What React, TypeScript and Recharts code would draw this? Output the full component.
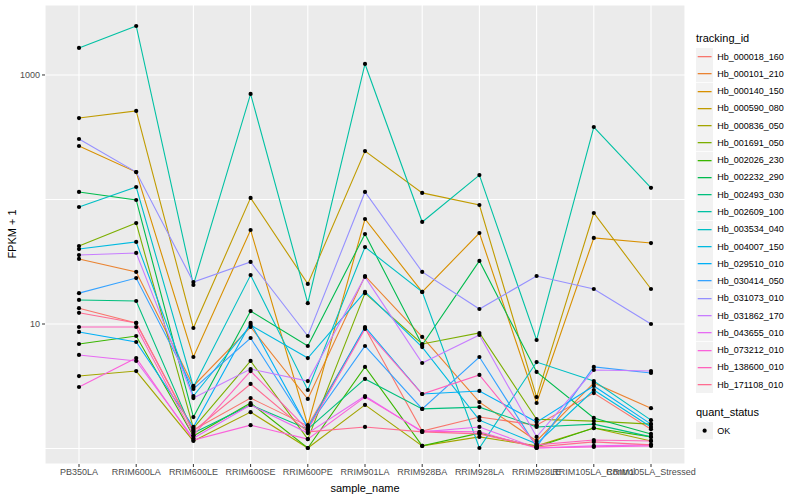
import { ComposedChart, Line, XAxis, YAxis, CartesianGrid } from 'recharts';

const samples = [
  'PB350LA', 'RRIM600LA', 'RRIM600LE', 'RRIM600SE', 'RRIM600PE', 'RRIM901LA',
  'RRIM928BA', 'RRIM928LA', 'RRIM928LE', 'RRIM105LA_Control', 'RRIM105LA_Stressed',
];

const trackingIds = [
  'Hb_000018_160', 'Hb_000101_210', 'Hb_000140_150', 'Hb_000590_080', 'Hb_000836_050',
  'Hb_001691_050', 'Hb_002026_230', 'Hb_002232_290', 'Hb_002493_030', 'Hb_002609_100',
  'Hb_003534_040', 'Hb_004007_150', 'Hb_029510_010', 'Hb_030414_050', 'Hb_031073_010',
  'Hb_031862_170', 'Hb_043655_010', 'Hb_073212_010', 'Hb_138600_010', 'Hb_171108_010',
];

const hueColors = [
  '#F8766D', '#EA8331', '#D89000', '#C09B00', '#A3A500', '#7CAE00', '#39B600', '#00BB4E',
  '#00BF7D', '#00C1A3', '#00BFC4', '#00BAE0', '#00B0F6', '#35A2FF', '#9590FF', '#C77CFF',
  '#E76BF3', '#FA62DB', '#FF62BC', '#FF6C91',
];

// FPKM + 1, one value per sample
const hb000018_160 = [13.4, 10.2, 1.41, 2.54, 1.52, 9.29, 1.38, 1.79, 1.54, 2.79, 1.43];
const hb000101_210 = [33.3, 26.2, 3.18, 9.46, 2.5, 24.3, 7.87, 2.36, 1.15, 3.36, 2.11];
const hb000140_150 = [269, 166, 5.43, 56.9, 1.54, 69.7, 18.1, 53.8, 2.32, 49.1, 44.7];
const hb000590_080 = [451, 514, 9.29, 103, 21.0, 245, 113, 90.3, 2.59, 77.9, 19.1];
const hb000836_050 = [3.82, 4.19, 1.15, 1.96, 1.01, 2.24, 1.05, 1.24, 1.05, 1.46, 1.15];
const hb001691_050 = [42.3, 64.7, 1.46, 5.05, 1.19, 17.7, 6.91, 8.47, 1.72, 1.66, 1.57];
const hb002026_230 = [6.91, 8.01, 1.26, 2.32, 1.01, 4.52, 1.05, 1.33, 1.03, 1.46, 1.24];
const hb002232_290 = [115, 99.1, 1.79, 12.7, 6.66, 52.8, 6.78, 32.1, 4.12, 1.76, 1.31];
const hb002493_030 = [15.6, 15.3, 1.33, 2.24, 1.43, 3.62, 2.08, 2.15, 1.49, 1.57, 1.24];
const hb002609_100 = [1648, 2475, 20.6, 704, 14.7, 1226, 66.0, 157, 7.44, 382, 124];
const hb003534_040 = [87.0, 126, 3.12, 24.7, 2.95, 41.5, 18.1, 1.01, 4.95, 3.48, 1.69];
const hb004007_150 = [40.0, 45.6, 2.64, 9.8, 5.33, 18.1, 6.53, 1.69, 1.09, 2.95, 1.49];
const hb029510_010 = [8.63, 7.17, 1.49, 10.2, 1.46, 9.46, 2.74, 2.9, 1.63, 3.18, 1.57];
const hb030414_050 = [17.7, 23.4, 3.01, 7.72, 1.49, 6.66, 2.08, 5.43, 1.03, 4.52, 4.04];
const hb031073_010 = [306, 166, 21.7, 31.5, 8.01, 115, 26.2, 13.2, 24.3, 19.1, 10.0];
const hb031862_170 = [35.8, 37.2, 2.54, 4.35, 3.48, 23.9, 4.86, 8.16, 1.24, 4.27, 4.19];
const hb043655_010 = [5.64, 5.05, 1.21, 2.24, 1.33, 2.64, 1.36, 1.49, 1.01, 1.05, 1.07];
const hb073212_010 = [3.12, 5.33, 1.17, 1.54, 1.19, 2.59, 1.38, 1.36, 1.01, 1.03, 1.05];
const hb138600_010 = [9.46, 9.46, 1.28, 4.19, 1.41, 9.12, 2.74, 3.9, 1.07, 1.17, 1.15];
const hb171108_010 = [12.3, 10.2, 1.38, 3.3, 1.36, 1.49, 1.36, 1.31, 1.03, 1.13, 1.07];

const seriesValues = [
  hb000018_160, hb000101_210, hb000140_150, hb000590_080, hb000836_050,
  hb001691_050, hb002026_230, hb002232_290, hb002493_030, hb002609_100,
  hb003534_040, hb004007_150, hb029510_010, hb030414_050, hb031073_010,
  hb031862_170, hb043655_010, hb073212_010, hb138600_010, hb171108_010,
];

const yTicks = [1, 10, 100, 1000];
const yLabelled = [10, 1000];

const chartData = samples.map((sample, i) => {
  const row: Record<string, string | number> = { sample };
  trackingIds.forEach((id, s) => {
    row[id] = seriesValues[s][i];
  });
  return row;
});

const FONT = '"Liberation Sans", Arial, Helvetica, sans-serif';

function YTick(props: any) {
  const { x, y, payload } = props;
  if (!yLabelled.includes(payload.value)) return null;
  return (
    <g>
      <line x1={x + 2} x2={x + 5} y1={y} y2={y} stroke="#333333" />
      <text x={x} y={y} dy="0.355em" textAnchor="end" fontSize={9} fill="#4D4D4D" fontFamily={FONT}>
        {payload.value}
      </text>
    </g>
  );
}

const KEY = 17.28;

export default function App() {
  return (
    <div style={{ position: 'absolute', left: 0, top: 0, width: 800, height: 500, background: '#fff', fontFamily: FONT }}>
      <ComposedChart
        width={800}
        height={500}
        data={chartData}
        margin={{ top: 5, right: 115, bottom: 16, left: 0 }}
      >
        <CartesianGrid stroke="#FFFFFF" strokeWidth={1.1} fill="#EBEBEB" fillOpacity={1} />
        <XAxis
          dataKey="sample"
          interval={0}
          padding={{ left: 34, right: 34 }}
          axisLine={false}
          tickSize={3}
          tickMargin={2}
          height={20}
          tickLine={{ stroke: '#333333' }}
          tick={{ fontSize: 9, fill: '#4D4D4D', fontFamily: FONT }}
        />
        <YAxis
          type="number"
          scale="log"
          domain={[0.751, 3648]}
          allowDataOverflow
          ticks={yTicks}
          width={45}
          axisLine={false}
          tickLine={false}
          tickSize={3}
          tickMargin={2}
          tick={<YTick />}
        />
        {trackingIds.map((id, s) => (
          <Line
            key={id}
            type="linear"
            dataKey={id}
            stroke={hueColors[s]}
            strokeWidth={1.1}
            dot={false}
            activeDot={false}
            isAnimationActive={false}
          />
        ))}
        {trackingIds.map((id) => (
          <Line
            key={id + '_pt'}
            type="linear"
            dataKey={id}
            stroke="none"
            strokeOpacity={0}
            dot={{ r: 2.1, fill: '#000000', stroke: 'none' }}
            activeDot={false}
            isAnimationActive={false}
          />
        ))}
      </ComposedChart>

      <div style={{ position: 'absolute', left: 0, top: 234, width: 24, height: 0 }}>
        <div style={{ position: 'absolute', left: 12, top: 0, transform: 'translate(-50%, -50%) rotate(-90deg)', fontSize: 11, whiteSpace: 'nowrap', color: '#000' }}>
          FPKM + 1
        </div>
      </div>
      <div style={{ position: 'absolute', left: 365, top: 488, transform: 'translate(-50%, -50%)', fontSize: 11, whiteSpace: 'nowrap', color: '#000' }}>
        sample_name
      </div>

      <div style={{ position: 'absolute', left: 696, top: 31, color: '#000' }}>
        <div style={{ fontSize: 11, height: 17, lineHeight: '14px' }}>tracking_id</div>
        {trackingIds.map((id, s) => (
          <div key={id} style={{ display: 'flex', alignItems: 'center', height: KEY }}>
            <svg width={KEY} height={KEY} style={{ flex: 'none' }}>
              <rect x={0} y={0} width={KEY} height={KEY} fill="#F2F2F2" />
              <line x1={1.7} x2={KEY - 1.7} y1={KEY / 2} y2={KEY / 2} stroke={hueColors[s]} strokeWidth={1.3} />
            </svg>
            <span style={{ fontSize: 9, marginLeft: 4, whiteSpace: 'nowrap' }}>{id}</span>
          </div>
        ))}
        <div style={{ fontSize: 11, height: 17, lineHeight: '14px', marginTop: 12 }}>quant_status</div>
        <div style={{ display: 'flex', alignItems: 'center', height: KEY }}>
          <svg width={KEY} height={KEY} style={{ flex: 'none' }}>
            <rect x={0} y={0} width={KEY} height={KEY} fill="#F2F2F2" />
            <circle cx={KEY / 2} cy={KEY / 2} r={2.1} fill="#000000" />
          </svg>
          <span style={{ fontSize: 9, marginLeft: 4 }}>OK</span>
        </div>
      </div>
    </div>
  );
}
